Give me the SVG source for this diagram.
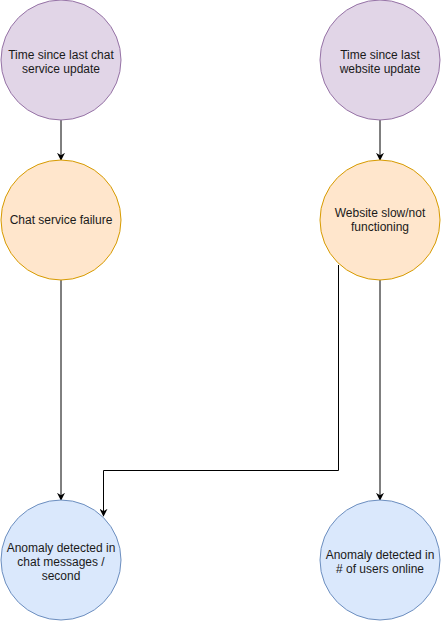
<svg xmlns="http://www.w3.org/2000/svg" width="441" height="622" viewBox="0 0 441 622">
<style>
.p{fill:#e1d5e7;stroke:#9673a6;stroke-width:1}
.o{fill:#ffe6cc;stroke:#d79b00;stroke-width:1}
.b{fill:#dae8fc;stroke:#6c8ebf;stroke-width:1}
.t{font-family:"Liberation Sans",Arial,sans-serif;font-size:12px;fill:#1a1a1a;text-anchor:middle}
.e{fill:none;stroke:#000;stroke-width:1;marker-end:url(#a)}
</style>
<defs>
<marker id="a" viewBox="0 0 10 10" refX="9" refY="5" markerWidth="8" markerHeight="8" markerUnits="userSpaceOnUse" orient="auto">
<path d="M0,0 L10,5 L0,10 L3,5 z" fill="#000"/>
</marker>
</defs>
<rect width="441" height="622" fill="#fff"/>
<g id="connectors">
<path class="e" d="M61,120 V160"/>
<path class="e" d="M380,120 V160"/>
<path class="e" d="M61,280 V500"/>
<path class="e" d="M380,280 V500"/>
<path class="e" d="M338.5,265 V470.5 H103.5 V516"/>
</g>
<g id="n1"><circle class="p" cx="61" cy="60" r="60"/><text class="t" x="61" y="59">Time since last chat</text><text class="t" x="61" y="73">service update</text></g>
<g id="n2"><circle class="p" cx="380" cy="60" r="60"/><text class="t" x="380" y="59">Time since last</text><text class="t" x="380" y="73">website update</text></g>
<g id="n3"><circle class="o" cx="61" cy="220" r="60"/><text class="t" x="61" y="224">Chat service failure</text></g>
<g id="n4"><circle class="o" cx="380" cy="220" r="60"/><text class="t" x="380" y="217">Website slow/not</text><text class="t" x="380" y="231">functioning</text></g>
<g id="n5"><circle class="b" cx="61" cy="560" r="60"/><text class="t" x="61" y="552">Anomaly detected in</text><text class="t" x="61" y="566">chat messages /</text><text class="t" x="61" y="580">second</text></g>
<g id="n6"><circle class="b" cx="380" cy="560" r="60"/><text class="t" x="380" y="559">Anomaly detected in</text><text class="t" x="380" y="573">#  of users online</text></g>
</svg>
